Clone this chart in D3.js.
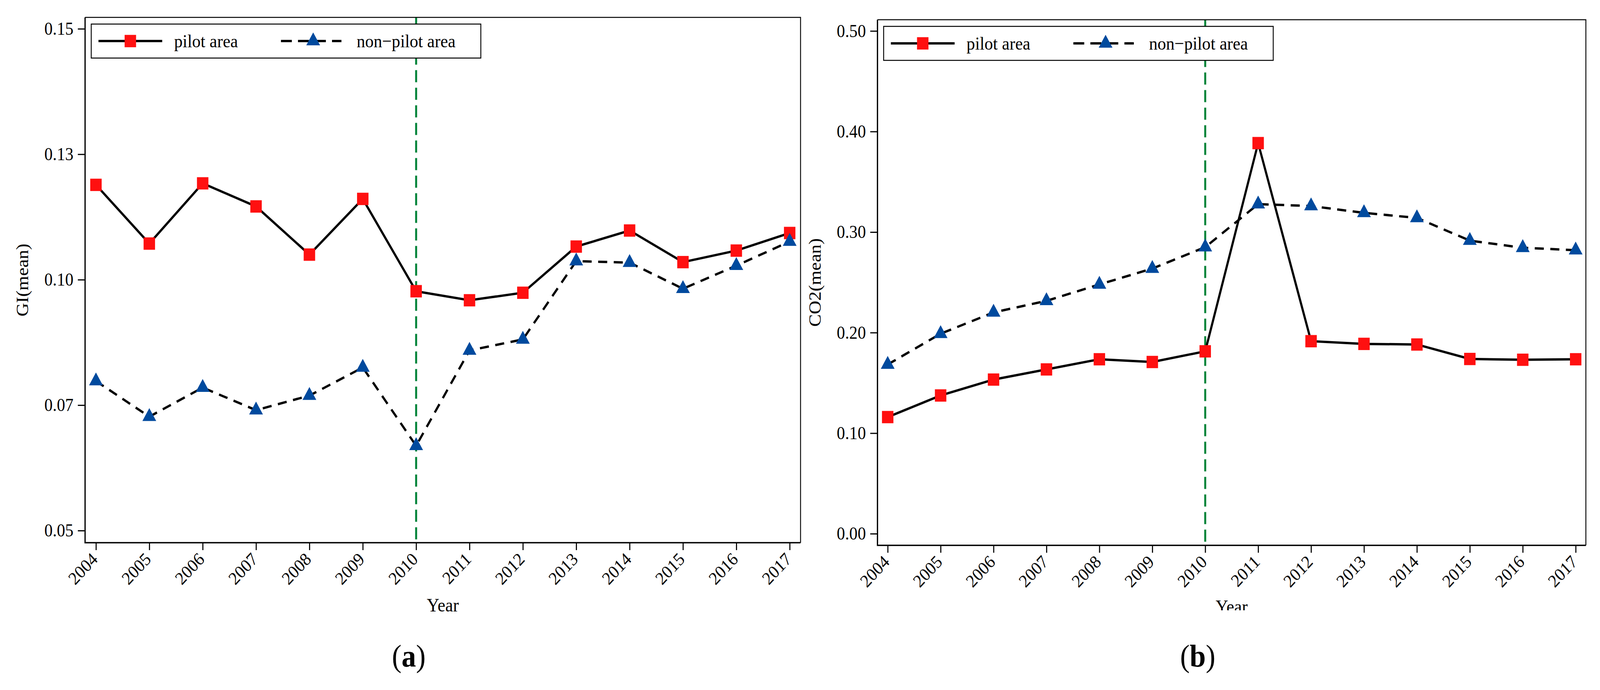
<!DOCTYPE html>
<html>
<head>
<meta charset="utf-8">
<script src="https://cdn.jsdelivr.net/npm/d3@7"></script>
<style>
    html, body { margin: 0; padding: 0; width: 100%; height: 100%; overflow: hidden; background: #fff; }
    svg { display: block; width: 100vw; height: 100vh; }
</style>
</head>
<body>
<svg id="Chart"></svg>
<script>
            // values
            let years = [2004, 2005, 2006, 2007, 2008, 2009, 2010, 2011, 2012, 2013, 2014, 2015, 2016, 2017];
            let giPilot = [0.1189, 0.1072, 0.1192, 0.1146, 0.1050, 0.1161, 0.0977, 0.0959, 0.0974, 0.1066, 0.1098, 0.1035, 0.1058, 0.1093];
            let giNonPilot = [0.0798, 0.0727, 0.0785, 0.0740, 0.0769, 0.0825, 0.0669, 0.0859, 0.0881, 0.1037, 0.1034, 0.0982, 0.1028, 0.1076];
            let co2Pilot = [0.1160, 0.1375, 0.1533, 0.1634, 0.1735, 0.1708, 0.1814, 0.3885, 0.1915, 0.1888, 0.1882, 0.1738, 0.1730, 0.1735];
            let co2NonPilot = [0.1683, 0.1989, 0.2201, 0.2316, 0.2479, 0.2637, 0.2850, 0.3278, 0.3259, 0.3191, 0.3141, 0.2915, 0.2844, 0.2820];
            let giTicks = [0.05, 0.075, 0.10, 0.125, 0.15];
            let giTickLabels = ["0.05", "0.07", "0.10", "0.13", "0.15"];
            let co2Ticks = [0, 0.1, 0.2, 0.3, 0.4, 0.5];
            let co2TickLabels = ["0.00", "0.10", "0.20", "0.30", "0.40", "0.50"];
            let seriesNames = ["pilot area", "non\u2212pilot area"];
            let policyYear = 2010;

            let FONT = "'Liberation Serif', 'Times New Roman', Times, serif";
            let RED = "#ff1010";
            let BLUE = "#004a9e";
            let GREEN = "#00843a";
            let DASH = "25,18";

            function getConfig() {
                let width = 4419;
                let height = 1766;
                // drawn in a fixed 4419 x 1766 coordinate space, stretched to the window
                let container = d3.select("#Chart")
                container
                    .attr("viewBox", `0 0 ${width} ${height}`)
                    .attr("preserveAspectRatio", "none")
                container.append("rect")
                    .attr("width", width)
                    .attr("height", height)
                    .attr("fill", "#fff")
                return {width, height, container}
            }

            function getScales(panel) {
                let xScale = d3.scaleLinear()
                    .domain([years[0], years[years.length - 1]])
                    .range([panel.frame.left + panel.pad, panel.frame.right - panel.pad])
                let yScale = d3.scaleLinear()
                    .domain(panel.yDomain)
                    .range(panel.yRange)
                return {xScale, yScale}
            }

            function drawPanel(config, panel) {
                let {container} = config;
                let {frame} = panel;
                let scales = getScales(panel);
                let {xScale, yScale} = scales;
                let g = container.append("g");

                // the dashed policy line sits under everything else
                g.append("line")
                    .attr("x1", xScale(policyYear))
                    .attr("x2", xScale(policyYear))
                    .attr("y1", frame.top)
                    .attr("y2", frame.bottom)
                    .attr("stroke", GREEN)
                    .attr("stroke-width", 5.5)
                    .attr("stroke-dasharray", "31,14")

                drawSeries(g, panel.pilot, scales, "none", d3.symbolSquare, RED, 1000);
                drawSeries(g, panel.nonPilot, scales, DASH, d3.symbolTriangle, BLUE, 629);

                drawAxes(g, panel, scales);
                drawLegend(g, panel);
            }

            function drawSeries(g, values, scales, dash, symbolType, color, size) {
                let {xScale, yScale} = scales;
                let line = d3.line()
                    .x((d, i) => xScale(years[i]))
                    .y(d => yScale(d))
                g.append("path")
                    .datum(values)
                    .attr("d", line)
                    .attr("fill", "none")
                    .attr("stroke", "#000")
                    .attr("stroke-width", 6)
                    .attr("stroke-dasharray", dash)
                g.selectAll(null)
                    .data(values)
                    .enter()
                    .append("path")
                    .attr("d", d3.symbol().type(symbolType).size(size))
                    .attr("transform", (d, i) => `translate(${xScale(years[i])},${yScale(d)})`)
                    .attr("fill", color)
            }

            function drawAxes(g, panel, scales) {
                let {xScale, yScale} = scales;
                let {frame} = panel;

                let axisY = d3.axisLeft(yScale)
                    .tickValues(panel.ticks)
                    .tickFormat((d, i) => panel.tickLabels[i])
                    .tickSize(20)
                    .tickPadding(12)
                let gy = g.append("g")
                    .attr("transform", `translate(${frame.left},0)`)
                    .call(axisY)
                gy.select(".domain").remove()
                gy.selectAll("line").attr("stroke-width", 3)
                gy.selectAll("text")
                    .attr("font-family", FONT)
                    .attr("font-size", 46)
                    .attr("fill", "#000")

                let axisX = d3.axisBottom(xScale)
                    .tickValues(years)
                    .tickFormat(d3.format("d"))
                    .tickSize(19)
                let gx = g.append("g")
                    .attr("transform", `translate(0,${frame.bottom})`)
                    .call(axisX)
                gx.select(".domain").remove()
                gx.selectAll("line").attr("stroke-width", 3)
                gx.selectAll("text")
                    .attr("font-family", FONT)
                    .attr("font-size", 46)
                    .attr("fill", "#000")
                    .attr("x", 0)
                    .attr("y", 0)
                    .attr("dy", 0)
                    .attr("text-anchor", "end")
                    .attr("transform", "translate(7,45) rotate(-45)")

                // frame: top and right thinner than the two axes
                g.append("path")
                    .attr("d", `M${frame.left},${frame.top}H${frame.right}V${frame.bottom}`)
                    .attr("fill", "none")
                    .attr("stroke", "#000")
                    .attr("stroke-width", 2.5)
                g.append("path")
                    .attr("d", `M${frame.left},${frame.top}V${frame.bottom}H${frame.right}`)
                    .attr("fill", "none")
                    .attr("stroke", "#000")
                    .attr("stroke-width", 3.5)

                let midX = (frame.left + frame.right) / 2;
                let midY = (frame.top + frame.bottom) / 2;
                g.append("text")
                    .attr("transform", `translate(${frame.left - 157},${midY}) rotate(-90)`)
                    .attr("text-anchor", "middle")
                    .attr("font-family", FONT)
                    .attr("font-size", 48)
                    .text(panel.yTitle)

                let clipId = "clip" + panel.id;
                g.append("clipPath")
                    .attr("id", clipId)
                    .append("rect")
                    .attr("x", frame.left)
                    .attr("y", 0)
                    .attr("width", frame.right - frame.left)
                    .attr("height", panel.yearClip)
                g.append("text")
                    .attr("x", midX)
                    .attr("y", panel.yearBaseline)
                    .attr("text-anchor", "middle")
                    .attr("font-family", FONT)
                    .attr("font-size", 48)
                    .attr("clip-path", `url(#${clipId})`)
                    .text("Year")

                let label = g.append("text")
                    .attr("x", panel.labelX)
                    .attr("y", 1706)
                    .attr("text-anchor", "middle")
                    .attr("font-family", FONT)
                    .attr("font-size", 80)
                label.append("tspan").text("(")
                label.append("tspan").attr("font-weight", "bold").text(panel.id)
                label.append("tspan").text(")")
            }

            function drawLegend(g, panel) {
                let {frame} = panel;
                let x0 = frame.left + 17;
                let y0 = frame.top + 17;
                let boxWidth = 1076;
                let boxHeight = 87;
                let cy = y0 + boxHeight / 2;
                let legend = g.append("g")
                legend.append("rect")
                    .attr("x", x0)
                    .attr("y", y0)
                    .attr("width", boxWidth)
                    .attr("height", boxHeight)
                    .attr("fill", "#fff")
                    .attr("stroke", "#000")
                    .attr("stroke-width", 2.5)

                let entries = [
                    {line: [20, 196], marker: 108, text: 229, dash: "none", type: d3.symbolSquare, color: RED, size: 1000},
                    {line: [524, 691], marker: 613, text: 733, dash: "30,17", type: d3.symbolTriangle, color: BLUE, size: 629}
                ]
                entries.forEach((e, i) => {
                    legend.append("line")
                        .attr("x1", x0 + e.line[0])
                        .attr("x2", x0 + e.line[1])
                        .attr("y1", cy)
                        .attr("y2", cy)
                        .attr("stroke", "#000")
                        .attr("stroke-width", 6)
                        .attr("stroke-dasharray", e.dash)
                    legend.append("path")
                        .attr("d", d3.symbol().type(e.type).size(e.size))
                        .attr("transform", `translate(${x0 + e.marker},${cy})`)
                        .attr("fill", e.color)
                    legend.append("text")
                        .attr("x", x0 + e.text)
                        .attr("y", cy + 16)
                        .attr("font-family", FONT)
                        .attr("font-size", 47)
                        .text(seriesNames[i])
                })
            }

            function showData() {
                let config = getConfig();
                drawPanel(config, {
                    id: "a",
                    frame: {left: 235, right: 2211, top: 44.6, bottom: 1389},
                    pad: 30,
                    yDomain: [0.05, 0.15],
                    yRange: [1358, 73.7],
                    ticks: giTicks,
                    tickLabels: giTickLabels,
                    pilot: giPilot,
                    nonPilot: giNonPilot,
                    yTitle: "GI(mean)",
                    yearBaseline: 1565,
                    yearClip: 1766,
                    labelX: 1129
                });
                drawPanel(config, {
                    id: "b",
                    frame: {left: 2423.5, right: 4380, top: 50.5, bottom: 1395.7},
                    pad: 28.2,
                    yDomain: [0, 0.5],
                    yRange: [1366, 79.3],
                    ticks: co2Ticks,
                    tickLabels: co2TickLabels,
                    pilot: co2Pilot,
                    nonPilot: co2NonPilot,
                    yTitle: "CO2(mean)",
                    yearBaseline: 1569,
                    yearClip: 1562,
                    labelX: 3308
                });
            }

            showData();
        </script>
</body>
</html>
